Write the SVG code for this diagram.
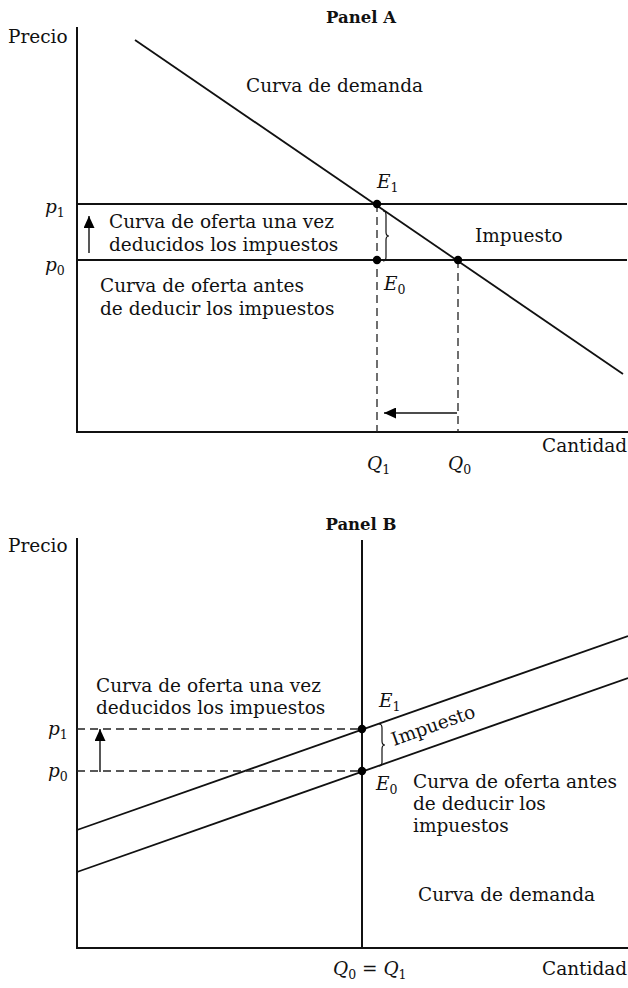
<svg xmlns="http://www.w3.org/2000/svg" width="628" height="988" viewBox="0 0 628 988">
<style>
text{font-family:"DejaVu Serif","Liberation Serif",serif;font-size:18.5px;fill:#111}
.t{font-weight:bold;font-size:16.5px}
.i{font-style:italic}
.s{font-size:12.5px;font-style:normal}
.ax{stroke:#111;stroke-width:2;fill:none}
.ln{stroke:#111;stroke-width:1.8;fill:none}
.ds{stroke:#222;stroke-width:1.3;stroke-dasharray:8 5;fill:none}
.br{stroke:#111;stroke-width:1.2;fill:none}
.ar{stroke:#111;stroke-width:1.4;fill:none;marker-end:url(#ah)}
.dot{fill:#000}
</style>
<defs>
<marker id="ah" viewBox="0 0 12 11" refX="12" refY="5.5" markerWidth="12" markerHeight="11" markerUnits="userSpaceOnUse" orient="auto">
<path d="M0,0 L12,5.5 L0,11 z" fill="#000"/>
</marker>
</defs>

<g id="panelA">
<text id="titleA" class="t" x="361" y="23" text-anchor="middle">Panel A</text>
<g id="axesA">
<path class="ax" d="M77,27 V432 H628"/>
<text x="8" y="43">Precio</text>
<text x="542" y="452">Cantidad</text>
</g>
<g id="connectorsA">
<path class="ln" d="M135,40 L623,374"/>
<path class="ln" d="M77,204 H627"/>
<path class="ln" d="M77,260 H627"/>
<path class="ds" d="M377,204 V432"/>
<path class="ds" d="M458,260 V432"/>
<path class="ar" d="M457,413 H384"/>
<path class="ar" d="M89,253 V216"/>
<path class="br" d="M383,211 q3,0 3,4 v17 q0,4 3,4 q-3,0 -3,4 v17 q0,4 -3,4"/>
</g>
<g id="pointsA">
<circle class="dot" cx="377" cy="204" r="4.2"/>
<circle class="dot" cx="377" cy="260" r="4.2"/>
<circle class="dot" cx="458" cy="260" r="4.2"/>
</g>
<g id="labelsA">
<text x="246" y="92">Curva de demanda</text>
<text x="109" y="228">Curva de oferta una vez</text>
<text x="109" y="251">deducidos los impuestos</text>
<text x="100" y="292">Curva de oferta antes</text>
<text x="100" y="315">de deducir los impuestos</text>
<text x="475" y="242">Impuesto</text>
<text class="i" x="45" y="213">p<tspan class="s" dy="4">1</tspan></text>
<text class="i" x="45" y="271">p<tspan class="s" dy="4">0</tspan></text>
<text class="i" x="377" y="188">E<tspan class="s" dy="4">1</tspan></text>
<text class="i" x="384" y="290">E<tspan class="s" dy="4">0</tspan></text>
<text class="i" x="367" y="470">Q<tspan class="s" dy="4">1</tspan></text>
<text class="i" x="448" y="470">Q<tspan class="s" dy="4">0</tspan></text>
</g>
</g>

<g id="panelB">
<text id="titleB" class="t" x="361" y="530" text-anchor="middle">Panel B</text>
<g id="axesB">
<path class="ax" d="M77,538 V948 H628"/>
<text x="8" y="552">Precio</text>
<text x="542" y="975">Cantidad</text>
</g>
<g id="connectorsB">
<path class="ax" d="M362,540 V948"/>
<path class="ln" d="M77,830 L628,636"/>
<path class="ln" d="M77,872 L628,678"/>
<path class="ds" d="M77,729 H362"/>
<path class="ds" d="M77,771 H362"/>
<path class="ar" d="M100,772 V729"/>
<path class="br" d="M379,724 q3,0 3,4 v13 q0,4 3,4 q-3,0 -3,4 v13 q0,4 -3,4"/>
</g>
<g id="pointsB">
<circle class="dot" cx="362" cy="729" r="4.2"/>
<circle class="dot" cx="362" cy="771" r="4.2"/>
</g>
<g id="labelsB">
<text x="96" y="692">Curva de oferta una vez</text>
<text x="96" y="714">deducidos los impuestos</text>
<text x="394" y="746" transform="rotate(-19.5 394 746)">Impuesto</text>
<text x="413" y="788">Curva de oferta antes</text>
<text x="413" y="810">de deducir los</text>
<text x="413" y="832">impuestos</text>
<text x="418" y="901">Curva de demanda</text>
<text class="i" x="48" y="735">p<tspan class="s" dy="4">1</tspan></text>
<text class="i" x="48" y="777">p<tspan class="s" dy="4">0</tspan></text>
<text class="i" x="379" y="707">E<tspan class="s" dy="4">1</tspan></text>
<text class="i" x="376" y="790">E<tspan class="s" dy="4">0</tspan></text>
<text class="i" x="333" y="975">Q<tspan class="s" dy="4">0</tspan><tspan dy="-4" style="font-style:normal"> = </tspan>Q<tspan class="s" dy="4">1</tspan></text>
</g>
</g>
</svg>
